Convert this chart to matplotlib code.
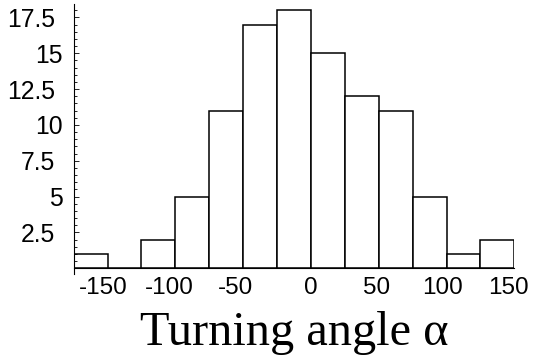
import numpy as np
import matplotlib
matplotlib.use("Agg")
import matplotlib.pyplot as plt
from matplotlib.ticker import MultipleLocator, FixedLocator
from matplotlib.transforms import ScaledTranslation

plt.rcParams['axes.unicode_minus'] = False

# histogram of turning angles, 14 bins over [-180, 180), last bin empty
counts = [1, 0, 2, 5, 11, 17, 18, 15, 12, 11, 5, 1, 2]
n_bins = 14
x_ticks = [-150, -100, -50, 0, 50, 100, 150]
y_ticks = [2.5, 5, 7.5, 10, 12.5, 15, 17.5]
y_tick_labels = ["2.5", "5", "7.5", "10", "12.5", "15", "17.5"]

bin_width = 360 / n_bins
bin_left = -180 + bin_width * np.arange(len(counts))

fig = plt.figure(figsize=(5.37, 3.57), dpi=100)
W, H = 537, 357
ax = fig.add_axes([73.7 / W, (H - 274) / H, (514.3 - 73.7) / W, (274 - 4) / H])

ax.bar(bin_left, counts, width=bin_width, align='edge',
       facecolor='white', edgecolor='black', linewidth=1.1)

ax.set_xlim(-180, -180 + bin_width * len(counts))
ax.set_ylim(-0.4, 18.44)

for s in ['top', 'right']:
    ax.spines[s].set_visible(False)
ax.spines['bottom'].set_position(('data', 0))
ax.spines['left'].set_linewidth(0.8)
ax.spines['bottom'].set_linewidth(0.8)

ax.xaxis.set_major_locator(FixedLocator(x_ticks))
ax.tick_params(axis='x', length=0, pad=6.3, labelsize=17.5)
for lab in ax.set_xticklabels([str(t) for t in x_ticks]):
    lab.set_fontfamily('Liberation Sans')

ax.yaxis.set_major_locator(FixedLocator(y_ticks))
ax.yaxis.set_minor_locator(MultipleLocator(0.5))
ax.tick_params(axis='y', which='major', direction='in', length=3.5,
               width=0.6, pad=7.7, labelsize=17.8)
ax.tick_params(axis='y', which='minor', direction='in', length=2,
               width=0.6)
for lab in ax.set_yticklabels(y_tick_labels):
    lab.set_fontfamily('Liberation Sans')

# nudge labels: negative x labels and decimal y labels sit a bit further left
for lab in ax.get_xticklabels():
    if lab.get_text().startswith('-'):
        lab.set_transform(lab.get_transform() + ScaledTranslation(-10 / 100, 0, fig.dpi_scale_trans))
for lab in ax.get_yticklabels():
    if '.' in lab.get_text():
        lab.set_transform(lab.get_transform() + ScaledTranslation(-8 / 100, 0, fig.dpi_scale_trans))

fig.text((73.7 + 514.3) / 2 / W, 1 - 345 / H, "Turning angle \u03b1",
         ha='center', va='baseline', fontsize=34.8, family='Liberation Serif')

fig.savefig("out.png", dpi=100)
